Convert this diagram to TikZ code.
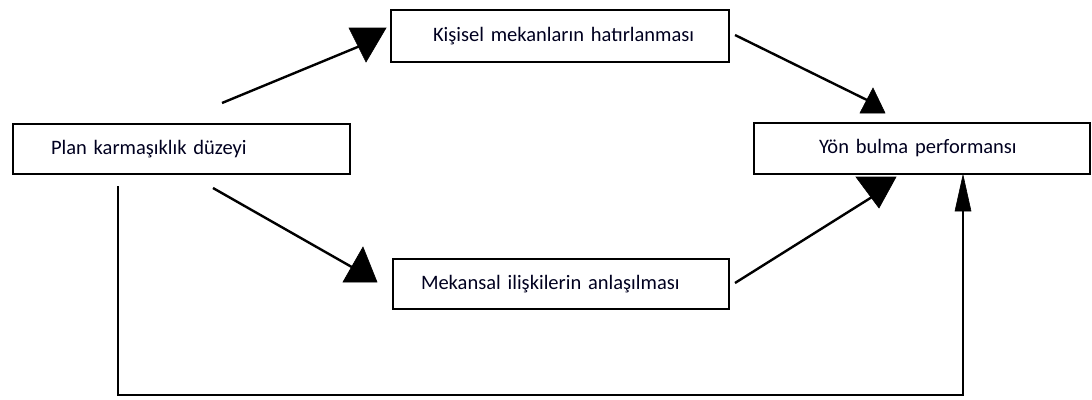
\documentclass[tikz,border=0pt]{standalone}
\usepackage{fontspec}
\setmainfont{Carlito}
\begin{document}
\begin{tikzpicture}[x=1pt,y=-1pt,
  box/.style={draw=black, line width=2pt, minimum height=50pt, inner sep=0pt,
    anchor=north west, align=left, font=\fontsize{20.5}{22}\selectfont, text=black!88!blue},
  link/.style={line width=2.4pt, line cap=butt},
  tip/.style={fill=black, draw=black, line width=0.6pt, line join=miter}]
  \useasboundingbox (0,0) rectangle (1092,399);

  % boxes; the leading space sets where each label starts
  \node[box, text width=337pt] (plan) at (12,123)
    {\hspace*{38pt}Plan karmaşıklık düzeyi};
  \node[box, text width=338pt, minimum height=52pt] (kisisel) at (390,9)
    {\hspace*{42pt}Kişisel mekanların hatırlanması};
  \node[box, text width=336pt] (mekansal) at (392,258)
    {\hspace*{28pt}Mekansal ilişkilerin anlaşılması};
  \node[box, text width=336pt, minimum height=51pt] (yon) at (753,122)
    {\hspace*{65pt}Yön bulma performansı};

  % connector end points
  \coordinate (p1) at (222,103);  \coordinate (k1) at (360,46);
  \coordinate (k2) at (735,35);   \coordinate (y1) at (869,101);
  \coordinate (p2) at (213,188);  \coordinate (m1) at (357,270);
  \coordinate (m2) at (735,283);  \coordinate (y2) at (872,197);
  \coordinate (p3) at (118,186);  \coordinate (y3) at (963,205);
  \coordinate (c1) at (118,395);  \coordinate (c2) at (963,395);

  % connectors
  \draw[link] (p1) -- (k1);
  \draw[link] (k2) -- (y1);
  \draw[link] (p2) -- (m1);
  \draw[link] (m2) -- (y2);
  \draw[link, line join=miter] (p3) -- (c1) -- (c2) -- (y3);

  % arrow heads
  \filldraw[tip] (349,28) -- (386,28) -- (366,62) -- cycle;
  \filldraw[tip] (873,88) -- (885,113) -- (860,113) -- cycle;
  \filldraw[tip] (363,247) -- (377,282) -- (343,282) -- cycle;
  \filldraw[tip] (856,177) -- (896,177) -- (879,208) -- cycle;
  \filldraw[tip] (963,175) -- (971,211) -- (955,211) -- cycle;
\end{tikzpicture}
\end{document}
